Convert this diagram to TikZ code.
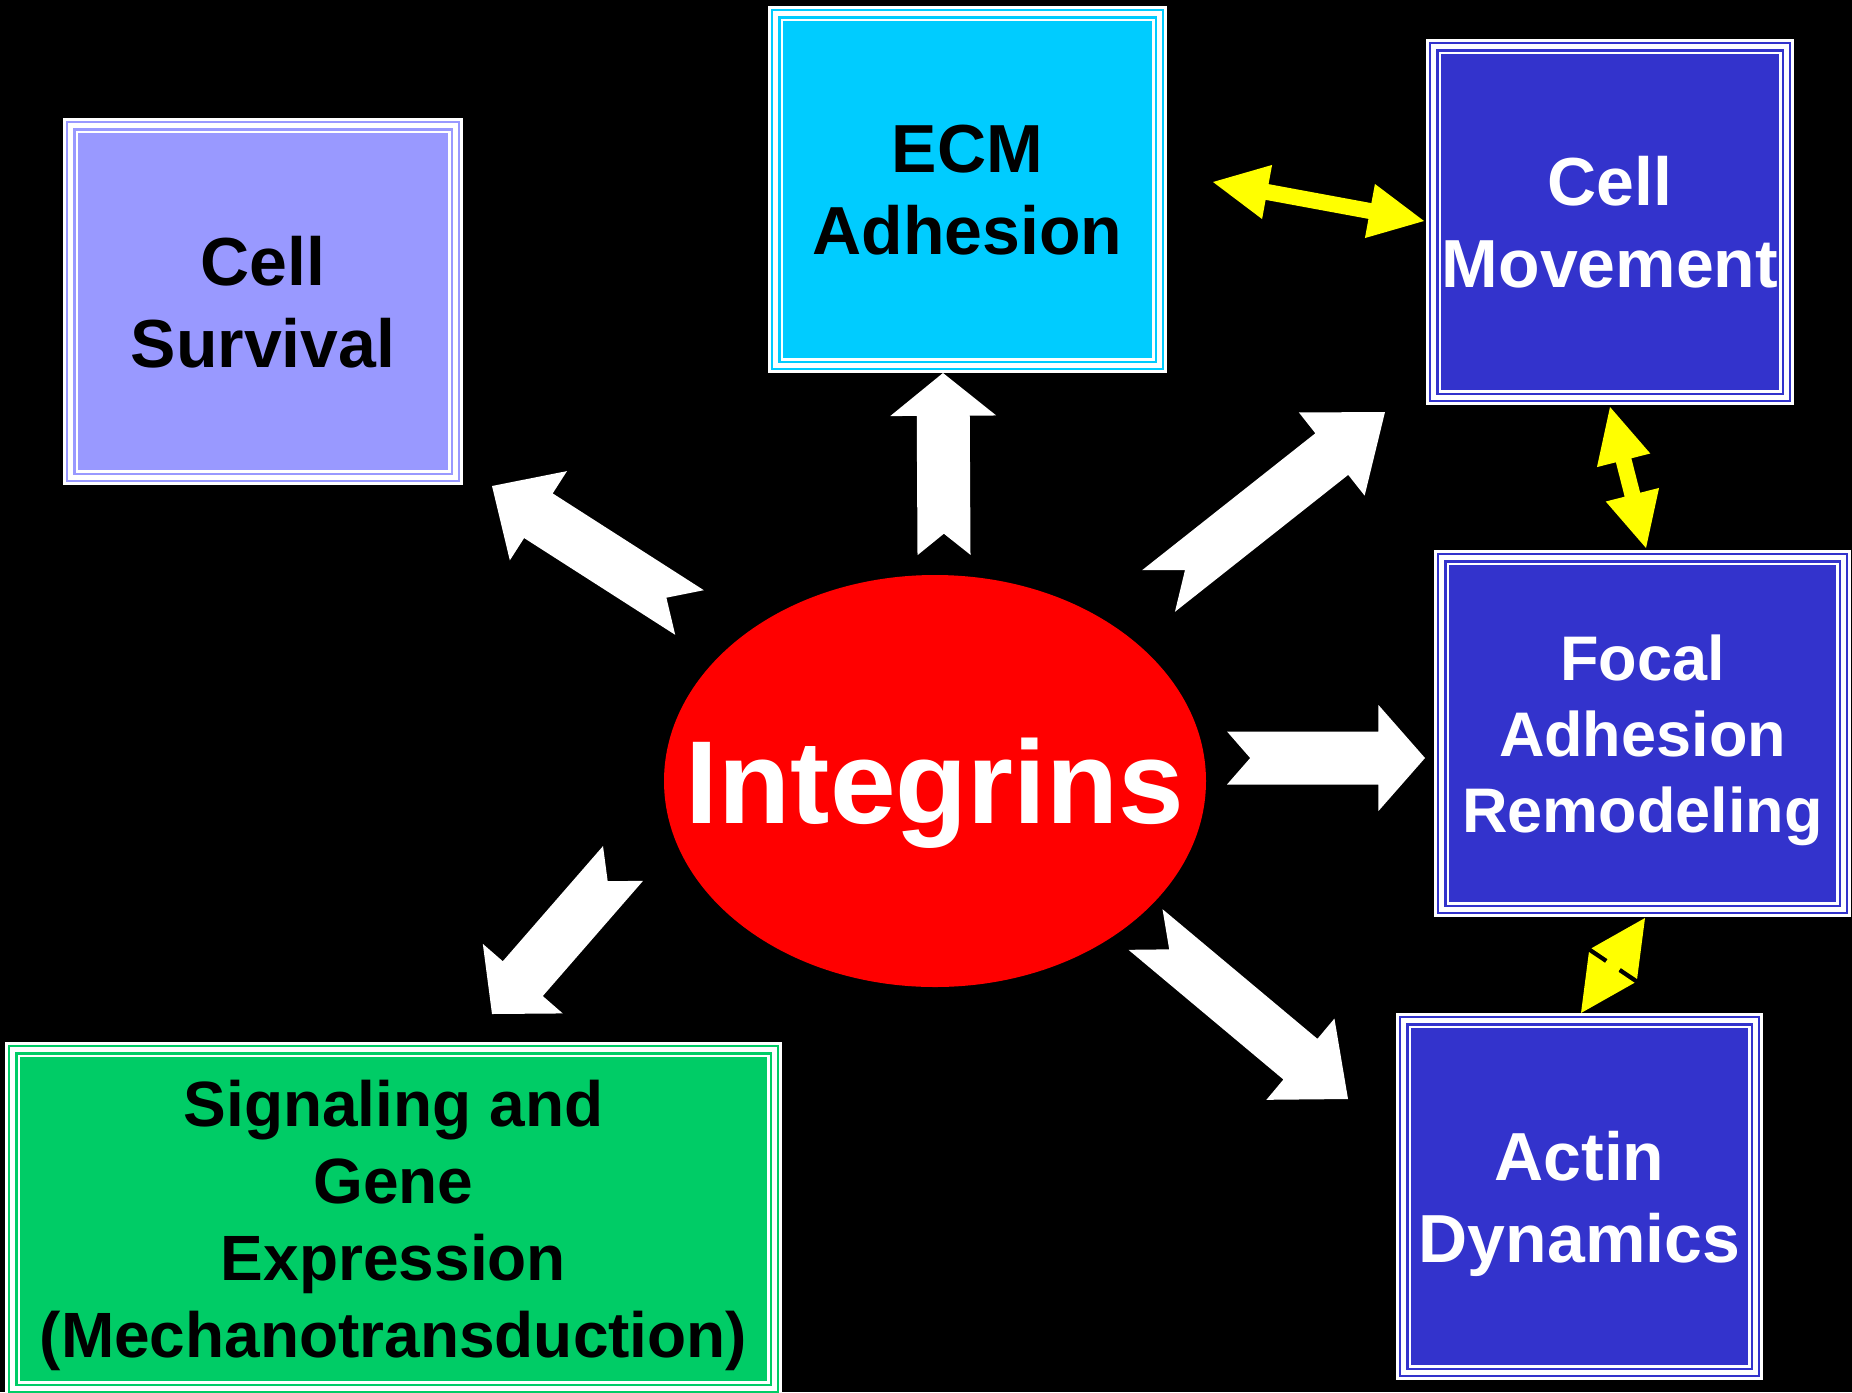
\documentclass[tikz,border=0pt]{standalone}
\usepackage{fontspec}
\setmainfont{Liberation Sans}
\usetikzlibrary{shapes.geometric,calc}

\definecolor{survfill}{HTML}{9999FF}
\definecolor{ecmfill}{HTML}{00CCFF}
\definecolor{bluefill}{HTML}{3333CC}
\definecolor{sigfill}{HTML}{00CC66}
\definecolor{arrowyellow}{HTML}{FFFF00}

% white block arrow with notched tail: #1 tail, #2 tip
\newcommand{\fatarrow}[2]{%
  \coordinate (hb) at ($(#2)!0.235!(#1)$);
  \fill[white] ($(#1)!26.5pt!90:(#2)$) -- ($(hb)!26.5pt!90:(#2)$) -- ($(hb)!53pt!90:(#2)$) -- (#2)
    -- ($(hb)!53pt!-90:(#2)$) -- ($(hb)!26.5pt!-90:(#2)$) -- ($(#1)!26.5pt!-90:(#2)$)
    -- ($(#1)!0.117!(#2)$) -- cycle;
}
% thin yellow arrow with two heads
\newcommand{\twoway}[2]{%
  \coordinate (ya) at ($(#1)!55pt!(#2)$);
  \coordinate (yb) at ($(#2)!55pt!(#1)$);
  \fill[arrowyellow] (#1) -- ($(ya)!27.5pt!90:(#2)$) -- ($(ya)!8pt!90:(#2)$)
    -- ($(yb)!8pt!-90:(#1)$) -- ($(yb)!27.5pt!-90:(#1)$) -- (#2)
    -- ($(yb)!27.5pt!90:(#1)$) -- ($(yb)!8pt!90:(#1)$)
    -- ($(ya)!8pt!-90:(#2)$) -- ($(ya)!27.5pt!-90:(#2)$) -- cycle;
}

\begin{document}
\begin{tikzpicture}[x=1pt,y=-1pt,
  box/.style={rectangle, fill=#1, draw=white, line width=2.7pt, double=#1,
    double distance=2.3pt, inner sep=0pt, align=center, text depth=0pt,
    font=\bfseries\fontsize{68}{82}\selectfont,
    path picture={\draw[white, line width=2.5pt, double=#1, double distance=2.3pt]
      ([shift={(7.5pt,-7.5pt)}]path picture bounding box.north west) rectangle
      ([shift={(-7.5pt,7.5pt)}]path picture bounding box.south east);}}]
\fill[black] (0,0) rectangle (1852,1392);
\useasboundingbox (0,0) rectangle (1852,1392);

% boxes
\node[box=survfill, text=black, minimum width=392.3pt, minimum height=359.3pt] (survival) at (263,301.5) {Cell\\Survival};
\node[box=ecmfill, text=black, minimum width=391.3pt, minimum height=359.3pt] (ecm) at (967.5,189.5) {ECM\\Adhesion};
\node[box=bluefill, text=white, minimum width=360.3pt, minimum height=358.3pt] (movement) at (1610,222) {Cell\\Movement};
\node[box=bluefill, text=white, minimum width=409.3pt, minimum height=359.3pt,
  font=\bfseries\fontsize{63}{76}\selectfont] (focal) at (1642.5,733.5) {Focal\\Adhesion\\Remodeling};
\node[box=bluefill, text=white, minimum width=359.3pt, minimum height=359.3pt] (actin) at (1579.5,1196.5) {Actin\\Dynamics};
\node[box=sigfill, text=black, minimum width=769.3pt, minimum height=346.3pt,
  font=\bfseries\fontsize{64}{77}\selectfont] (signaling) at (393.5,1219) {Signaling and\\Gene\\Expression\\(Mechanotransduction)};

\node[ellipse, fill=red, minimum width=542pt, minimum height=412pt, inner sep=0pt,
  label={[text=white, text depth=0pt, inner sep=0pt, font=\bfseries\fontsize{118}{120}\selectfont]center:Integrins}]
  (integrins) at (935,781) {};

% arrow ends
\coordinate (ecm-tail) at (944,555);       \coordinate (ecm-tip) at (943,373);
\coordinate (surv-tail) at (689.5,612.5);  \coordinate (surv-tip) at (492,486);
\coordinate (move-tail) at (1158.5,591);   \coordinate (move-tip) at (1385,412);
\coordinate (focal-tail) at (1227,758);    \coordinate (focal-tip) at (1425,758);
\coordinate (actin-tail) at (1145.5,929.5);\coordinate (actin-tip) at (1348,1099);
\coordinate (sig-tail) at (623,863.5);     \coordinate (sig-tip) at (492,1014);

\fatarrow{ecm-tail}{ecm-tip}
\fatarrow{surv-tail}{surv-tip}
\fatarrow{move-tail}{move-tip}
\fatarrow{focal-tail}{focal-tip}
\fatarrow{actin-tail}{actin-tip}
\fatarrow{sig-tail}{sig-tip}

% yellow links
\coordinate (em-a) at (1213,182);  \coordinate (em-b) at (1424,221);
\coordinate (mf-a) at (1610,407);  \coordinate (mf-b) at (1646,548);
\coordinate (fa-a) at (1645,918);  \coordinate (fa-b) at (1581,1013);
\twoway{em-a}{em-b}
\twoway{mf-a}{mf-b}
\twoway{fa-a}{fa-b}
\draw[black, line width=2.5pt, dash pattern=on 18pt off 18pt] (1590,949.5) -- (1636,980.5);
\end{tikzpicture}
\end{document}
